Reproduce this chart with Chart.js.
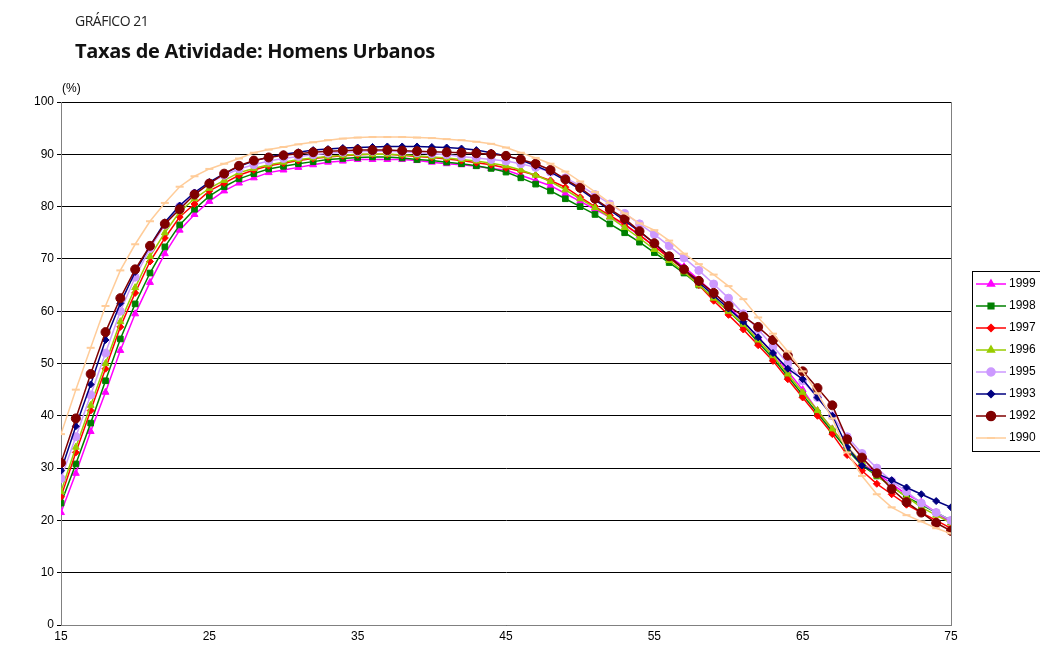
<!DOCTYPE html>
<html>
<head>
<meta charset="utf-8">
<script src="https://cdn.jsdelivr.net/npm/chart.js@4/dist/chart.umd.min.js"></script>
<style>
  body { margin: 0; background: #fff; font-family: "Liberation Sans", Arial, sans-serif; }
  #wrap { position: relative; width: 1040px; height: 653px; }
  #sup { position: absolute; left: 75px; top: 11px; font-size: 14px; color: #222; font-family: "Open Sans", sans-serif; letter-spacing: -0.5px; }
  #ttl { position: absolute; left: 75px; top: 37px; font-size: 20px; font-weight: bold; color: #111; font-family: "Open Sans", sans-serif; letter-spacing: -0.3px; }
  #unit { position: absolute; left: 62px; top: 81px; font-size: 12px; }
</style>
</head>
<body>
<div id="wrap">
  <div id="sup">GRÁFICO 21</div>
  <div id="ttl">Taxas de Atividade: Homens Urbanos</div>
  <div id="unit">(%)</div>
  <canvas id="c" width="1040" height="653"></canvas>
</div>
<script>
const ages = [];
for (let a = 15; a <= 75; a++) ages.push(a);
const yTicks = [0, 10, 20, 30, 40, 50, 60, 70, 80, 90, 100];
const xTicks = [15, 25, 35, 45, 55, 65, 75];

const s1999 = [21.5,29,37,44.5,52.5,59.5,65.5,71,75.5,78.5,81,83,84.5,85.5,86.5,87,87.5,88,88.5,88.7,89,89,89,89,88.8,88.5,88.2,88,87.7,87.3,87,86,85,84,82.5,81,79.5,78,76.5,74.5,72.5,70.5,68.5,66,63.5,61,58,55,52,48.5,45,41,37.5,34,31,29,27,25,23.5,21.5,19.5];
const s1998 = [23.3,30.8,38.6,46.7,54.7,61.4,67.3,72.3,76.5,79.5,82,83.8,85.3,86.3,87.2,87.7,88.2,88.6,89,89.2,89.4,89.5,89.5,89.3,89,88.8,88.5,88.2,87.8,87.3,86.6,85.5,84.3,83,81.5,80,78.5,76.7,75,73.2,71.2,69.3,67.3,65,62.5,60,57.3,54,51,47.5,44,40.5,37,33.5,30.5,28.5,26.5,24.5,23,21.5,20];
const s1997 = [24.5,33,41,49,57,63.5,69.5,74,78,80.5,83,84.5,86,87,87.8,88.3,88.8,89.2,89.5,89.7,89.9,90,90,89.8,89.6,89.4,89.1,88.8,88.4,88,87.4,86.8,86,85,83.7,81.8,80,78.3,76.6,74.6,72.4,70.2,68,65,62,59.3,56.5,53.5,50.5,47,43.5,40,36.5,32.5,29.5,27,25,23,21.5,20,18.5];
const s1996 = [25.5,34,42,50,58,64.5,70.5,75,79,81.5,83.5,85,86.5,87.3,88,88.5,89,89.3,89.6,89.8,90,90,90,89.9,89.7,89.5,89.3,89,88.7,88.3,87.8,87,86,84.8,83.2,81.5,79.8,78,76,74,71.8,69.7,67.5,65,62.5,60,57.5,54.5,51.5,48,44.5,41,37.5,34,31,28.5,26.5,24.5,22.5,21,19.5];
const s1995 = [28,36,44,52,60,66.5,72,76.5,80,82.5,84.5,86,87.2,88,88.7,89.2,89.6,89.9,90.2,90.4,90.5,90.6,90.6,90.5,90.3,90.1,89.9,89.6,89.3,89,88.7,88.2,87.5,86.6,85.5,84,82.3,80.5,78.7,76.7,74.7,72.5,70.2,67.8,65.2,62.5,59.5,56.5,53.3,50,46.7,43.5,40,36,32.8,30,27.5,25.5,23.3,21.5,20];
const s1993 = [29.5,38,46,54.5,61.5,67.5,72.5,77,80.2,82.7,84.7,86.3,87.7,88.7,89.5,90,90.4,90.8,91,91.2,91.3,91.4,91.5,91.5,91.5,91.4,91.3,91.1,90.8,90.3,89.7,88.9,87.8,86.6,85,83.3,81.3,79.3,77.3,75.2,73,70.5,68,65.5,63,60.5,58,55,52,49,47,43.5,40,34,30.5,29,27.7,26.3,25,23.7,22.5];
const s1992 = [31,39.5,48,56,62.5,68,72.5,76.7,79.5,82.3,84.4,86.3,87.8,88.8,89.4,89.8,90.1,90.4,90.6,90.7,90.8,90.8,90.8,90.7,90.6,90.5,90.4,90.3,90.2,90,89.7,89,88.2,87,85.2,83.6,81.5,79.5,77.7,75.3,73,70.5,68,65.8,63.5,61,59,57,54.5,51.5,48.5,45.3,42,35.5,32,29,26,23.5,21.5,19.5,18];
const s1990 = [36.5,45,53,61,67.8,72.8,77.2,80.7,83.8,85.8,87.2,88.2,89.2,90.3,90.9,91.4,91.9,92.3,92.7,93,93.2,93.3,93.3,93.3,93.2,93.1,92.9,92.7,92.4,92,91.3,90.3,89.3,88.2,86.7,84.8,82.8,80.7,78.7,76.8,75.5,73.5,71,69,67,64.8,62.3,58.8,55.7,52.3,48.5,44.3,39.5,33,28.5,25,22.5,21,19.8,18.5,17.5];

const series = [
  ['1999', s1999, '#FF00FF', 'triangle', 4],
  ['1998', s1998, '#008000', 'rect', 4],
  ['1997', s1997, '#FF0000', 'rectRot', 3.5],
  ['1996', s1996, '#99CC00', 'triangle', 4],
  ['1995', s1995, '#CC99FF', 'circle', 4],
  ['1993', s1993, '#000080', 'rectRot', 3.5],
  ['1992', s1992, '#800000', 'circle', 4.5],
  ['1990', s1990, '#FFCC99', 'line', 4]
];

const datasets = series.map(([label, vals, color, style, r]) => ({
  label,
  data: vals.map((v, i) => ({ x: ages[i], y: v })),
  borderColor: color,
  backgroundColor: color,
  pointStyle: style,
  pointRadius: r,
  pointBorderWidth: style === 'line' ? 2 : 1,
  borderWidth: 1.5,
  tension: 0
})).reverse();

const legendPlugin = {
  id: 'sideLegend',
  afterDraw(chart) {
    const ctx = chart.ctx;
    const x0 = 972, y0 = 271, rowH = 22;
    ctx.save();
    ctx.fillStyle = '#fff';
    ctx.fillRect(x0, y0, 80, series.length * rowH + 4);
    ctx.strokeStyle = '#000';
    ctx.lineWidth = 1;
    ctx.strokeRect(x0 + 0.5, y0 + 0.5, 80, series.length * rowH + 4);
    ctx.font = '12px "Liberation Sans", Arial, sans-serif';
    ctx.textBaseline = 'middle';
    series.forEach(([label, , color, style, r], i) => {
      const y = y0 + 13 + i * rowH;
      ctx.strokeStyle = color;
      ctx.fillStyle = color;
      ctx.lineWidth = 1.5;
      ctx.beginPath();
      ctx.moveTo(x0 + 4, y);
      ctx.lineTo(x0 + 34, y);
      ctx.stroke();
      Chart.helpers.drawPoint(ctx, { pointStyle: style, radius: r, rotation: 0, borderWidth: 1 }, x0 + 19, y);
      ctx.fillStyle = '#000';
      ctx.fillText(label, x0 + 37, y);
    });
    ctx.restore();
  }
};

new Chart(document.getElementById('c'), {
  type: 'line',
  data: { datasets },
  options: {
    responsive: false,
    animation: false,
    layout: { padding: { top: 102, right: 89, bottom: 0, left: 0 } },
    plugins: { legend: { display: false }, tooltip: { enabled: false } },
    scales: {
      x: {
        type: 'linear', min: 15, max: 75,
        afterBuildTicks: s => { s.ticks = xTicks.map(v => ({ value: v })); },
        afterFit: s => { s.height = 28; },
        grid: { display: false, drawTicks: false },
        border: { color: '#808080' },
        ticks: { color: '#000', font: { size: 12, family: '"Liberation Sans", Arial' }, padding: 4 }
      },
      y: {
        min: 0, max: 100,
        afterBuildTicks: s => { s.ticks = yTicks.map(v => ({ value: v })); },
        afterFit: s => { s.width = 61; },
        grid: { color: '#000', lineWidth: 1, drawTicks: true, tickLength: 4 },
        border: { color: '#808080' },
        ticks: { color: '#000', font: { size: 12, family: '"Liberation Sans", Arial' } }
      },
      y2: {
        position: 'right', min: 0, max: 100,
        grid: { display: false }, ticks: { display: false },
        border: { color: '#808080' },
        afterFit: s => { s.width = 0; }
      }
    }
  },
  plugins: [legendPlugin]
});
</script>
</body>
</html>
